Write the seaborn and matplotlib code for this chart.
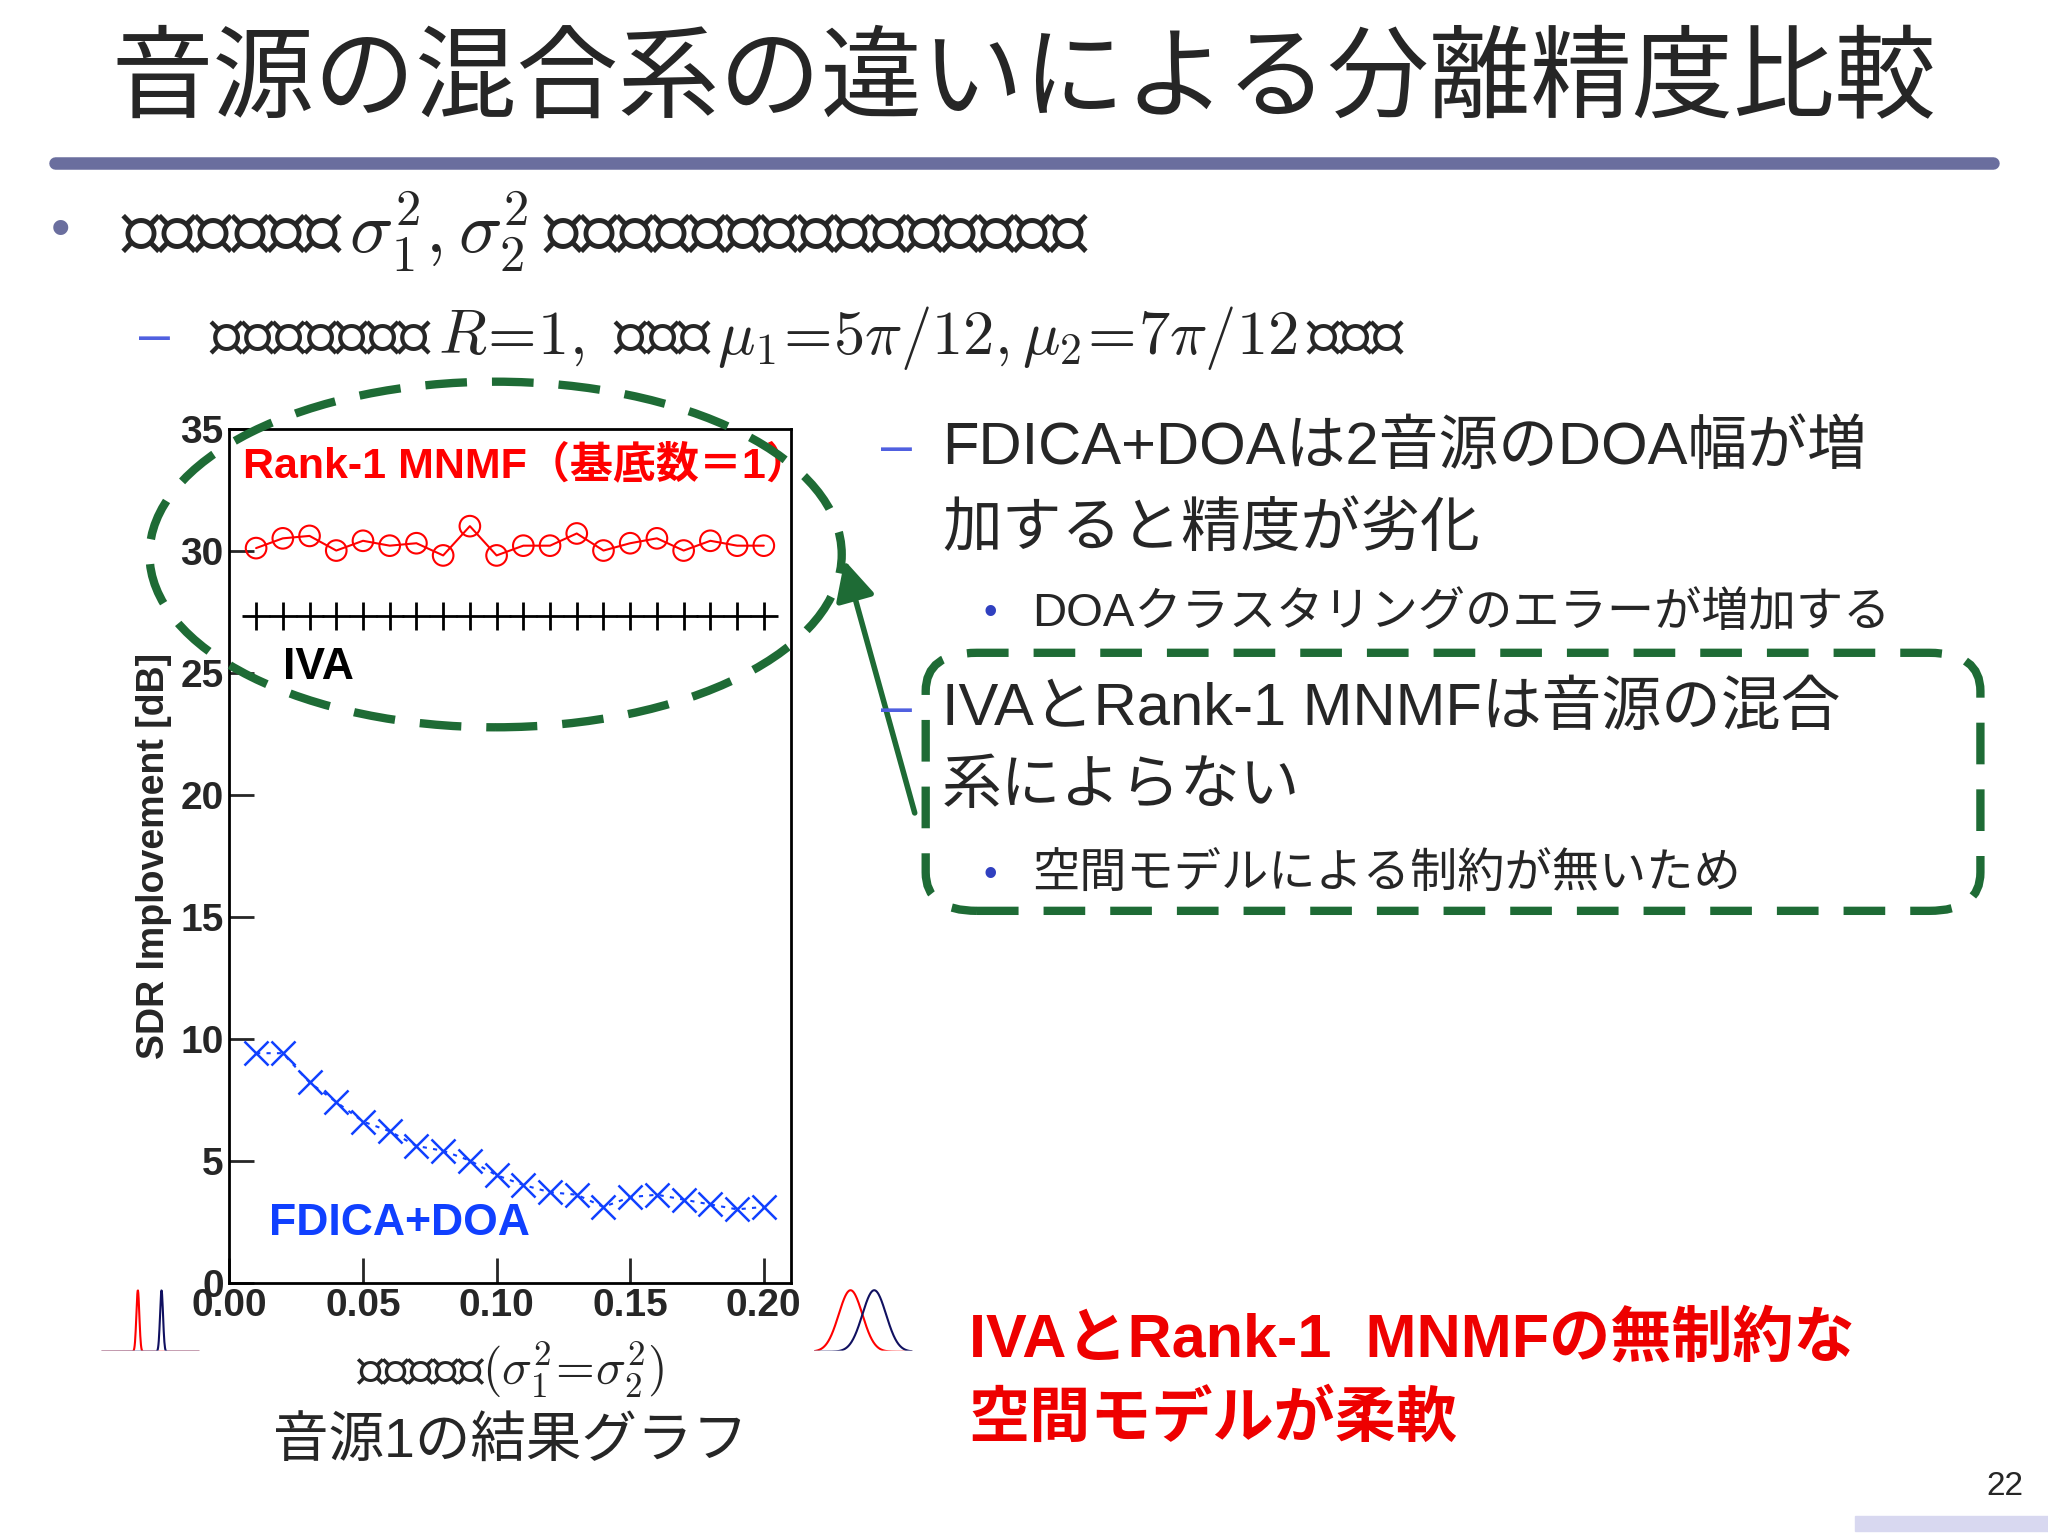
import numpy as np
import matplotlib
matplotlib.use("Agg")
import matplotlib.pyplot as plt
import seaborn as sns
import pandas as pd
from matplotlib.patches import Ellipse, FancyBboxPatch, FancyArrowPatch

sns.set_theme(style="white")
FAM = ['Liberation Sans', 'Noto Sans CJK JP', 'DejaVu Sans']
plt.rcParams['font.family'] = FAM
plt.rcParams['mathtext.fontset'] = 'cm'

variance = [round(0.01 * i, 2) for i in range(1, 21)]
mnmf = [30.1, 30.5, 30.6, 30.0, 30.4, 30.2, 30.3, 29.8, 31.0, 29.8,
        30.2, 30.2, 30.7, 30.0, 30.3, 30.5, 30.0, 30.4, 30.2, 30.2]
iva = [27.3] * 20
fdica = [9.4, 9.4, 8.2, 7.4, 6.6, 6.2, 5.6, 5.4, 5.0, 4.4,
         4.0, 3.7, 3.6, 3.1, 3.5, 3.6, 3.4, 3.2, 3.0, 3.1]
xticks = [0.00, 0.05, 0.10, 0.15, 0.20]
xticklabels = ["0.00", "0.05", "0.10", "0.15", "0.20"]
yticks = [0, 5, 10, 15, 20, 25, 30, 35]

df = pd.DataFrame({"x": variance, "mnmf": mnmf, "iva": iva, "fdica": fdica})

fig = plt.figure(figsize=(20.48, 15.36), dpi=100)
fig.patch.set_facecolor("white")
ax = fig.add_axes([0.112, 0.165, 0.274, 0.556])
sns.lineplot(data=df, x="x", y="mnmf", ax=ax, color="red", lw=1.5)
sns.scatterplot(data=df, x="x", y="mnmf", ax=ax, marker="o", s=220, facecolor="none",
                edgecolor="red", linewidth=1.5, zorder=3)
sns.scatterplot(data=df, x="x", y="iva", ax=ax, marker="+", s=380, color="black", linewidth=2, zorder=3)
sns.lineplot(data=df, x="x", y="fdica", ax=ax, color="#1040ff", lw=1.5, linestyle=(0, (2, 3)))
sns.scatterplot(data=df, x="x", y="fdica", ax=ax, marker="x", s=300, color="#1040ff", linewidth=1.8, zorder=3)
ax.set_xlim(0, 0.21)
ax.set_ylim(0, 35)
ax.set_xticks(xticks)
ax.set_xticklabels(xticklabels, fontsize=28, fontweight="bold")
ax.set_yticks(yticks)
ax.set_yticklabels([str(v) for v in yticks], fontsize=28, fontweight="bold")
ax.tick_params(direction="in", length=18, width=2, pad=4, left=True, bottom=True)
for s in ax.spines.values():
    s.set_color("black"); s.set_linewidth(2)
ax.set_xlabel("")
ax.set_ylabel("SDR Implovement [dB]", fontsize=27, fontweight="bold", labelpad=6)
ax.text(0.005, 33.5, "Rank-1 MNMF（基底数＝1）", color="red", fontsize=31, fontweight="bold",
        va="center", ha="left", clip_on=False)
ax.text(0.02, 25.2, "IVA", color="black", fontsize=32, fontweight="bold", va="center")
ax.text(0.015, 2.4, "FDICA+DOA", color="#1040ff", fontsize=32, fontweight="bold", va="center")

# Title and rule
fig.text(0.50, 0.945, "音源の混合系の違いによる分離精度比較", fontsize=73, ha="center", va="center")
fig.add_artist(plt.Line2D([0.027, 0.973], [0.894, 0.894], color="#6a6e9e", lw=9))

# bullets
fig.text(0.025, 0.849, "•", fontsize=40, color="#6a6e9e", va="center")
fig.text(0.059, 0.849, r"音源の混合系$\,\sigma_1^2,\sigma_2^2\,$を変化させた場合の分離精度比較",
         fontsize=52, va="center")
fig.text(0.068, 0.780, "–", fontsize=40, color="#5060e0", va="center")
fig.text(0.102, 0.780, r"音源の基底数は$\,R\!=\!1,$ 平均は$\,\mu_1\!=\!5\pi/12,\mu_2\!=\!7\pi/12\,$に固定",
         fontsize=45, va="center")

fig.text(0.430, 0.708, "–", fontsize=40, color="#5060e0", va="center")
fig.text(0.460, 0.708, "FDICA+DOAは2音源のDOA幅が増", fontsize=43, va="center")
fig.text(0.460, 0.655, "加すると精度が劣化", fontsize=43, va="center")
fig.text(0.480, 0.600, "•", fontsize=28, color="#3040c0", va="center")
fig.text(0.504, 0.600, "DOAクラスタリングのエラーが増加する", fontsize=34, va="center")
fig.text(0.430, 0.538, "–", fontsize=40, color="#5060e0", va="center")
fig.text(0.460, 0.538, "IVAとRank-1 MNMFは音源の混合", fontsize=43, va="center")
fig.text(0.460, 0.487, "系によらない", fontsize=43, va="center")
fig.text(0.480, 0.430, "•", fontsize=28, color="#3040c0", va="center")
fig.text(0.504, 0.430, "空間モデルによる制約が無いため", fontsize=34, va="center")

fig.text(0.473, 0.127, "IVAとRank-1  MNMFの無制約な", fontsize=44, fontweight="bold",
         color="#ee0000", va="center")
fig.text(0.473, 0.075, "空間モデルが柔軟", fontsize=44, fontweight="bold", color="#ee0000", va="center")

fig.text(0.249, 0.108, r"音源の分散$(\sigma_1^2\!=\!\sigma_2^2)$", fontsize=36, ha="center", va="center")
fig.text(0.249, 0.060, "音源1の結果グラフ", fontsize=40, ha="center", va="center")
fig.text(0.988, 0.032, "22", fontsize=24, ha="right", va="center")
fig.add_artist(plt.Rectangle((0.906, 0.003), 0.094, 0.010, color="#d8d8f0", transform=fig.transFigure))

# green annotations
green = "#1e6b35"
fig.add_artist(Ellipse((0.242, 0.639), 0.338, 0.225, transform=fig.transFigure, fill=False,
                       ec=green, lw=6, linestyle=(0, (5, 3))))
fig.add_artist(FancyBboxPatch((0.452, 0.407), 0.515, 0.168, boxstyle="round,pad=0,rounding_size=0.025",
                              transform=fig.transFigure, fill=False, ec=green, lw=6,
                              linestyle=(0, (5, 3))))
fig.add_artist(FancyArrowPatch((0.447, 0.469), (0.412, 0.637), transform=fig.transFigure,
                               arrowstyle="-|>,head_length=1.2,head_width=0.6", color=green, lw=4,
                               mutation_scale=20))

# small gaussian icons
def icon(rect, s, m1, m2):
    a = fig.add_axes(rect)
    t = np.linspace(0, 1, 300)
    a.plot(t, np.exp(-(t - m1) ** 2 / (2 * s ** 2)), color="red", lw=1.5)
    a.plot(t, np.exp(-(t - m2) ** 2 / (2 * s ** 2)), color="#101060", lw=1.5)
    a.set_xlim(0, 1.1); a.set_ylim(0, 1.3)
    a.axis("off")
    a.annotate("", xy=(1.1, 0), xytext=(0, 0), annotation_clip=False,
               arrowprops=dict(arrowstyle="->", lw=1.5, shrinkA=0, shrinkB=0))
    a.annotate("", xy=(0, 1.3), xytext=(0, 0), annotation_clip=False,
               arrowprops=dict(arrowstyle="->", lw=1.5, shrinkA=0, shrinkB=0))

icon([0.049, 0.120, 0.053, 0.052], 0.015, 0.38, 0.62)
icon([0.397, 0.120, 0.053, 0.052], 0.12, 0.38, 0.62)

fig.savefig("out.png", dpi=100, facecolor="white")
